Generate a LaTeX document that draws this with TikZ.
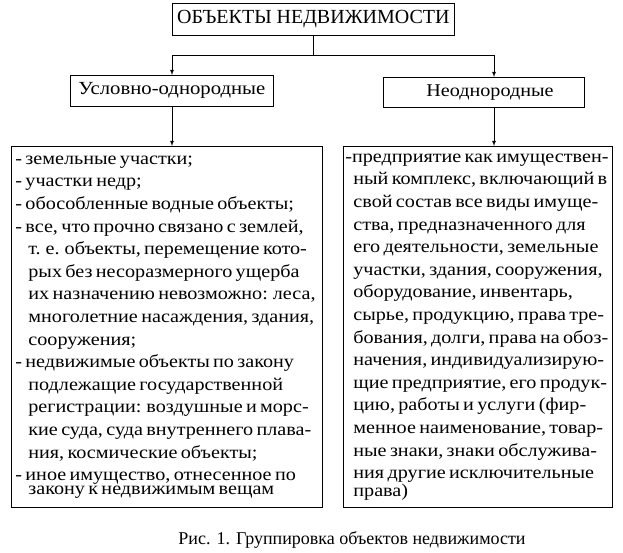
\documentclass[tikz,border=0pt]{standalone}
\usepackage{fontspec}
\setmainfont{Liberation Serif}
\newfontfamily\bodyfont{Liberation Serif}[FakeStretch=1.12]
\usetikzlibrary{positioning}
\usetikzlibrary{arrows}
\usetikzlibrary{calc}

\tikzset{
  headbox/.style={draw, line width=0.8pt, inner sep=0pt, anchor=north west},
  listbox/.style={draw, line width=0.8pt, inner sep=0pt, anchor=north west, align=left},
  arr/.style={-latex, line width=0.8pt}
}

\begin{document}
\begin{tikzpicture}[x=1pt,y=-1pt]
        \useasboundingbox (0,0) rectangle (623,553);

        % Head boxes
        \node[headbox, minimum width=282pt, minimum height=32pt] (top) at (172,3)
          {\fontsize{20}{22}\selectfont ОБЪЕКТЫ НЕДВИЖИМОСТИ};
        \node[headbox, minimum width=203pt, minimum height=31pt] (uslov) at (70,75)
          {\bodyfont\fontsize{18.5}{20}\selectfont Условно-однородные};
        \node[headbox, minimum width=201pt, minimum height=30pt, text width=195pt, align=center] (neodn) at (383,77)
          {\bodyfont\fontsize{18}{20}\selectfont\hspace*{12pt}Неоднородные};

        % List boxes
        \node[listbox, minimum width=311pt, minimum height=361pt, text width=307pt] (leftlist) at (11,146)
          {\bodyfont\fontsize{18}{22.6}\selectfont
           \hspace*{2pt}- земельные участки;\\
           \hspace*{2pt}- участки недр;\\
           \hspace*{2pt}- обособленные водные объекты;\\
           \hspace*{2pt}- все, что прочно связано с землей,\\
           \hspace*{15pt}т. е. объекты, перемещение кото-\\
           \hspace*{15pt}рых без несоразмерного ущерба\\
           \hspace*{15pt}их назначению невозможно: леса,\\
           \hspace*{15pt}многолетние насаждения, здания,\\
           \hspace*{15pt}сооружения;\\
           \hspace*{2pt}- недвижимые объекты по закону\\
           \hspace*{15pt}подлежащие государственной\\
           \hspace*{15pt}регистрации: воздушные и морс-\\
           \hspace*{15pt}кие суда, суда внутреннего плава-\\
           \hspace*{15pt}ния, космические объекты;\\
           \hspace*{2pt}- иное имущество, отнесенное по\\
           \hspace*{15pt}закону к недвижимым вещам};
        \node[listbox, minimum width=269pt, minimum height=361pt, text width=267pt] (rightlist) at (343,146)
          {\bodyfont\fontsize{18}{22.6}\selectfont
           \hspace*{1pt}-предприятие как имуществен-\\
           \hspace*{9pt}ный комплекс, включающий в\\
           \hspace*{9pt}свой состав все виды имуще-\\
           \hspace*{9pt}ства, предназначенного для\\
           \hspace*{9pt}его деятельности, земельные\\
           \hspace*{9pt}участки, здания, сооружения,\\
           \hspace*{9pt}оборудование, инвентарь,\\
           \hspace*{9pt}сырье, продукцию, права тре-\\
           \hspace*{9pt}бования, долги, права на обоз-\\
           \hspace*{9pt}начения, индивидуализирую-\\
           \hspace*{9pt}щие предприятие, его продук-\\
           \hspace*{9pt}цию, работы и услуги (фир-\\
           \hspace*{9pt}менное наименование, товар-\\
           \hspace*{9pt}ные знаки, знаки обслужива-\\
           \hspace*{9pt}ния другие исключительные\\
           \hspace*{9pt}права)};

        % Caption
        \node (caption) at (352,540) {\fontsize{18}{20}\selectfont Рис. 1. Группировка объектов недвижимости};

        % Connectors
        \coordinate (jl) at (172,55);
        \coordinate (jr) at (494,55);
        \draw[line width=0.8pt] (top.south) -- (top.south |- jl);
        \draw[line width=0.8pt] (jl) -- (jr);
        \draw[arr] (jl) -- (uslov.north -| jl);
        \draw[arr] (jr) -- (neodn.north -| jr);
        \draw[arr] (uslov.south -| jl) -- (leftlist.north -| jl);
        \draw[arr] (neodn.south -| jr) -- (rightlist.north -| jr);
     \end{tikzpicture}
\end{document}
